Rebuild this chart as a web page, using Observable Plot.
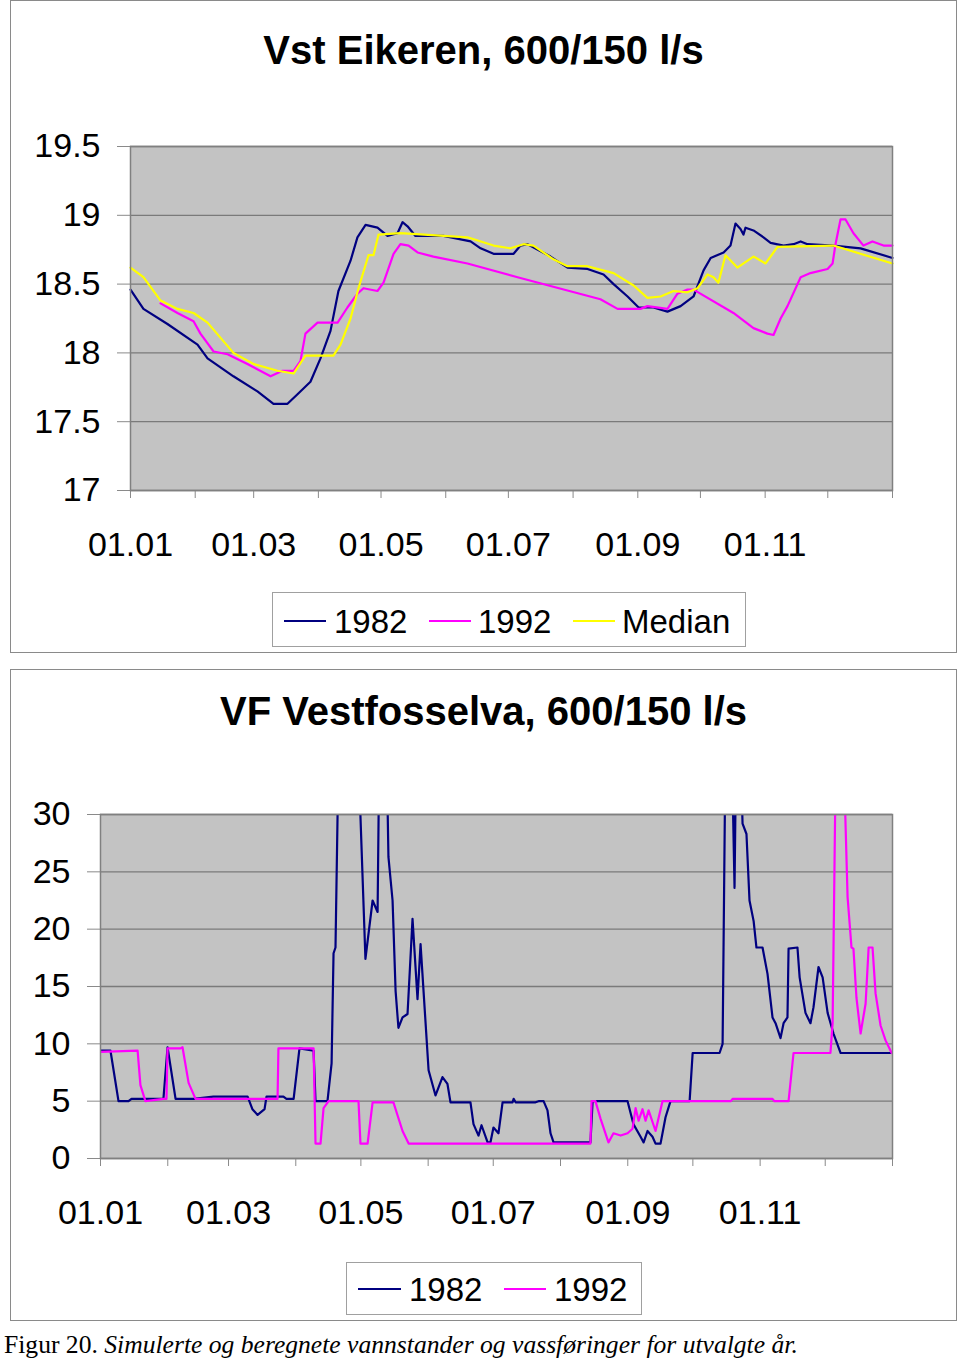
<!DOCTYPE html>
<html>
<head>
<meta charset="utf-8">
<script src="https://cdn.jsdelivr.net/npm/d3@7"></script>
<script src="https://cdn.jsdelivr.net/npm/@observablehq/plot@0.6"></script>
<style>
  html, body { margin: 0; padding: 0; background: #fff; }
  #page { position: relative; width: 960px; height: 1362px; font-family: "Liberation Sans", Arial, sans-serif; color: #000; overflow: hidden; }
  .box { position: absolute; left: 10px; width: 945px; border: 1.5px solid #8a8a8a; }
  .title { position: absolute; left: 10px; width: 947px; text-align: center; font-weight: bold; font-size: 40px; line-height: 40px; }
  .plot { position: absolute; left: 10px; }
  .legend { position: absolute; border: 1px solid #a0a0a0; background: #fff; }
  .sw { position: absolute; height: 0; border-top: 2px solid; }
  .lt { position: absolute; font-size: 33px; line-height: 33px; }
  #caption { position: absolute; left: 4px; top: 1330px; font-family: "Liberation Serif", "Times New Roman", serif; font-size: 25.6px; line-height: 30px; white-space: nowrap; }
</style>
</head>
<body>
<div id="page">
  <div class="box" style="top:0px;height:651px;"></div>
  <div class="box" style="top:669px;height:650px;"></div>
  <div class="title" style="top:30px;">Vst Eikeren, 600/150 l/s</div>
  <div class="title" style="top:691px;">VF Vestfosselva, 600/150 l/s</div>
  <div class="plot" id="plotTop" style="top:110px;"></div>
  <div class="plot" id="plotBottom" style="top:780px;"></div>

  <div class="legend" style="left:272px;top:592px;width:472px;height:53px;">
    <div class="sw" style="left:11px;top:27px;width:42px;border-color:#000080;"></div>
    <div class="lt" style="left:61px;top:12px;">1982</div>
    <div class="sw" style="left:156px;top:27px;width:42px;border-color:#ff00ff;"></div>
    <div class="lt" style="left:205px;top:12px;">1992</div>
    <div class="sw" style="left:300px;top:27px;width:42px;border-color:#ffff00;"></div>
    <div class="lt" style="left:349px;top:12px;">Median</div>
  </div>
  <div class="legend" style="left:346px;top:1262px;width:294px;height:51px;">
    <div class="sw" style="left:11px;top:25px;width:43px;border-color:#000080;"></div>
    <div class="lt" style="left:62px;top:10px;">1982</div>
    <div class="sw" style="left:157px;top:25px;width:42px;border-color:#ff00ff;"></div>
    <div class="lt" style="left:207px;top:10px;">1992</div>
  </div>

  <div id="caption">Figur 20. <i>Simulerte og beregnete vannstander og vassføringer for utvalgte år.</i></div>
</div>
<script>
// ---------- shared x axis (day of year) ----------
const monthStarts = [0, 31, 59, 90, 120, 151, 181, 212, 243, 273, 304, 334, 365];
const monthLabels = ["01.01", "", "01.03", "", "01.05", "", "01.07", "", "01.09", "", "01.11", "", ""];

// ---------- Vst Eikeren (water level, m) ----------
const eikTicks = [17, 17.5, 18, 18.5, 19, 19.5];
const eikDays1982 = [0, 6.2, 17.7, 32.1, 36.9, 49.3, 60.8, 68.5, 75.2, 80, 86.2, 91, 95.8, 99.6, 105.4, 108.7, 112.6, 118.3, 123.1, 127.9, 130.3, 132.7, 136.5, 149.9, 162.9, 167.7, 173.9, 183.5, 186.8, 190.2, 201.2, 209.3, 218.9, 226.6, 231.4, 238.1, 243.4, 250.5, 257.2, 263.5, 269.7, 274.5, 277.9, 284.1, 287.4, 289.8, 292.2, 293.6, 294.6, 298.4, 303.2, 306.6, 312.8, 317.6, 321, 324.3, 336.7, 349.7, 365];
const eikLevel1982 = [18.46, 18.32, 18.21, 18.06, 17.96, 17.83, 17.72, 17.63, 17.63, 17.70, 17.79, 17.96, 18.16, 18.45, 18.67, 18.84, 18.93, 18.91, 18.85, 18.87, 18.95, 18.92, 18.85, 18.85, 18.81, 18.76, 18.72, 18.72, 18.78, 18.79, 18.70, 18.62, 18.61, 18.57, 18.50, 18.41, 18.33, 18.33, 18.30, 18.34, 18.41, 18.60, 18.69, 18.73, 18.78, 18.94, 18.90, 18.86, 18.91, 18.89, 18.84, 18.80, 18.78, 18.79, 18.81, 18.79, 18.78, 18.76, 18.69];
const eikDays1992 = [14.4, 22.5, 30.2, 33.5, 39.8, 46.5, 56, 67.1, 72.8, 78.1, 81.4, 83.8, 89.6, 99.2, 103.9, 108.7, 111.6, 118.3, 121.2, 126, 129.3, 133.2, 137.5, 145.1, 161.4, 185.4, 225.1, 233.3, 244.3, 247.6, 257.2, 262, 266.8, 269.7, 288.8, 298.4, 305.1, 308, 311.4, 314.7, 321, 325.7, 333.9, 336.3, 337.7, 340.1, 342.5, 346.3, 351.1, 355.4, 360.7, 365];
const eikLevel1992 = [18.36, 18.29, 18.23, 18.14, 18.01, 17.99, 17.92, 17.83, 17.87, 17.87, 17.94, 18.14, 18.22, 18.22, 18.33, 18.43, 18.47, 18.45, 18.51, 18.72, 18.79, 18.78, 18.73, 18.70, 18.65, 18.55, 18.39, 18.32, 18.32, 18.34, 18.32, 18.43, 18.46, 18.46, 18.29, 18.18, 18.14, 18.13, 18.25, 18.34, 18.55, 18.58, 18.61, 18.65, 18.79, 18.97, 18.97, 18.87, 18.78, 18.81, 18.78, 18.78];
const eikDaysMedian = [0, 6.2, 14.4, 22.5, 30.2, 36.9, 49.3, 58.9, 70.4, 78.1, 83.8, 97.2, 100.6, 105.4, 109.2, 114, 116.4, 118.8, 129.3, 161.4, 173.9, 182, 188.3, 193, 202.6, 209.3, 218.9, 231.4, 241, 247.6, 253.9, 260.1, 266.8, 271.6, 276.4, 279.3, 281.6, 285, 290.7, 298.4, 304.2, 309.9, 336.7, 365];
const eikLevelMedian = [18.62, 18.55, 18.38, 18.32, 18.29, 18.22, 18.00, 17.92, 17.87, 17.85, 17.98, 17.98, 18.06, 18.25, 18.47, 18.71, 18.71, 18.86, 18.87, 18.84, 18.78, 18.76, 18.79, 18.78, 18.68, 18.63, 18.63, 18.58, 18.49, 18.40, 18.41, 18.45, 18.44, 18.47, 18.57, 18.55, 18.51, 18.71, 18.62, 18.70, 18.65, 18.77, 18.78, 18.65];

// ---------- VF Vestfosselva (discharge, m3/s) ----------
const vfTicks = [0, 5, 10, 15, 20, 25, 30];
const vfDays1982 = [0, 4.6, 8.3, 12.9, 14.3, 29, 30.9, 34.6, 42.9, 52, 67.8, 70, 72.4, 75.6, 76.5, 84.3, 85.7, 89, 91.7, 98.2, 99.1, 104.6, 106.5, 107.4, 108.3, 110.5, 114, 117, 122.1, 125.4, 127.7, 129, 131, 132.7, 134.6, 136, 137.3, 139.2, 141.5, 143.8, 146.1, 147.5, 151.2, 154.4, 157.6, 159.9, 161.3, 170.5, 171.9, 174.2, 175.6, 178.4, 179.7, 181.1, 183.4, 185.3, 189.9, 190.4, 191.3, 200.5, 201.9, 204.2, 206, 207.4, 208.8, 225.8, 226.8, 242.9, 245.6, 248.9, 250.3, 252.1, 254.4, 255.8, 258.1, 260.4, 262.7, 271.5, 272.9, 285.3, 286.7, 288.5, 290, 292.2, 293.5, 295.9, 297.7, 299.1, 301, 302.3, 305.1, 307.4, 309.7, 311.1, 313.4, 314.8, 316.6, 317.1, 321.2, 322.2, 324.9, 327.2, 328.6, 330.9, 332.8, 335.1, 337.8, 341.1, 365];
const vfFlow1982 = [9.4, 9.4, 5.0, 5.0, 5.2, 5.2, 9.7, 5.2, 5.2, 5.4, 5.4, 4.3, 3.8, 4.3, 5.4, 5.4, 5.2, 5.2, 9.6, 9.4, 5.0, 5.0, 8.3, 17.9, 18.4, 45, 60, 45, 17.4, 22.5, 21.5, 45, 45, 26.3, 22.5, 14.6, 11.4, 12.3, 12.6, 20.9, 13.9, 18.7, 7.7, 5.5, 7.1, 6.5, 4.9, 4.9, 3.0, 2.0, 2.9, 1.4, 1.4, 2.7, 2.2, 4.9, 4.9, 5.2, 4.9, 4.9, 5.0, 5.0, 4.2, 2.2, 1.4, 1.4, 5.0, 5.0, 3.0, 1.9, 1.4, 2.4, 1.9, 1.3, 1.3, 3.6, 5.0, 5.0, 9.2, 9.2, 10.0, 45, 45, 23.6, 45, 29.2, 28.3, 22.5, 20.7, 18.4, 18.4, 16.1, 12.3, 11.8, 10.5, 11.8, 12.3, 18.3, 18.4, 15.8, 12.7, 11.8, 13.2, 16.7, 15.8, 12.7, 10.9, 9.2, 9.2];
const vfDays1992 = [0, 17.1, 18.4, 20.7, 29, 30.4, 30.9, 36.9, 37.8, 40.6, 43.8, 81.6, 82, 98.2, 99.1, 101.4, 102.8, 105.1, 118.9, 119.8, 123.1, 125.4, 135, 139.2, 142, 225.8, 226.3, 228.1, 230.4, 234.1, 236.4, 239.7, 242.9, 245.2, 246.6, 248, 249.8, 251.2, 252.6, 255.8, 259, 290.4, 291.3, 309.7, 310.6, 317.1, 319.4, 336.4, 337.4, 339.5, 341, 344.3, 346.1, 347, 348.4, 350.3, 352.6, 354, 355.8, 357.2, 359.5, 361.8, 364.6];
const vfFlow1992 = [9.3, 9.4, 6.4, 5.0, 5.2, 5.2, 9.6, 9.6, 9.7, 6.6, 5.2, 5.2, 9.6, 9.6, 1.3, 1.3, 4.4, 5.0, 5.0, 1.3, 1.3, 4.9, 4.9, 2.4, 1.3, 1.3, 5.0, 5.0, 3.5, 1.4, 2.2, 2.0, 2.2, 2.6, 4.4, 3.3, 4.3, 3.3, 4.2, 2.4, 5.0, 5.0, 5.2, 5.2, 5.0, 5.0, 9.2, 9.2, 11.8, 45, 45, 22.8, 18.4, 18.3, 14.0, 10.9, 13.5, 18.4, 18.4, 14.4, 11.6, 10.3, 9.2];

const colors = {"1982": "#000080", "1992": "#ff00ff", "Median": "#ffff00"};

const rows = (days, vals) => days.map((d, i) => ({day: d, value: vals[i]}));
const xLabel = new Map(monthStarts.map((d, i) => [d, monthLabels[i]]));

function chart({yDomain, yTicks, series, marginLeft, marginTop, tickPadX, clip}) {
  return Plot.plot({
    width: 947,
    height: 470,
    marginLeft,
    marginRight: 65,
    marginTop,
    marginBottom: 470 - marginTop - 344,
    style: {fontFamily: "'Liberation Sans', Arial, sans-serif", fontSize: "34px", color: "#000", background: "transparent", overflow: "visible"},
    x: {domain: [0, 365], label: null},
    y: {domain: yDomain, label: null},
    marks: [
      Plot.frame({fill: "#c3c3c3", stroke: null}),
      Plot.gridY({ticks: yTicks, stroke: "#7a7a7a", strokeOpacity: 1, strokeWidth: 1.3}),
      Plot.axisY({ticks: yTicks, tickFormat: d => String(d), tickSize: 13, tickPadding: 17, stroke: "#8a8a8a", fill: "#000", label: null}),
      Plot.axisX({ticks: monthStarts, tickFormat: d => xLabel.get(d) ?? "", tickSize: 8, tickPadding: tickPadX, stroke: "#8a8a8a", fill: "#000", label: null}),
      ...series.map(s => Plot.line(rows(s.days, s.values), {x: "day", y: "value", stroke: s.color, strokeWidth: 2.2, clip})),
      Plot.frame({stroke: "#808080", strokeWidth: 1.5})
    ]
  });
}

document.getElementById("plotTop").append(chart({
  yDomain: [17, 19.5], yTicks: eikTicks, marginLeft: 120, marginTop: 36, tickPadX: 33, clip: false,
  series: [
    {days: eikDays1982, values: eikLevel1982, color: colors["1982"]},
    {days: eikDays1992, values: eikLevel1992, color: colors["1992"]},
    {days: eikDaysMedian, values: eikLevelMedian, color: colors["Median"]}
  ]
}));

document.getElementById("plotBottom").append(chart({
  yDomain: [0, 30], yTicks: vfTicks, marginLeft: 90, marginTop: 34, tickPadX: 33, clip: true,
  series: [
    {days: vfDays1982, values: vfFlow1982, color: colors["1982"]},
    {days: vfDays1992, values: vfFlow1992, color: colors["1992"]}
  ]
}));
</script>
</body>
</html>
